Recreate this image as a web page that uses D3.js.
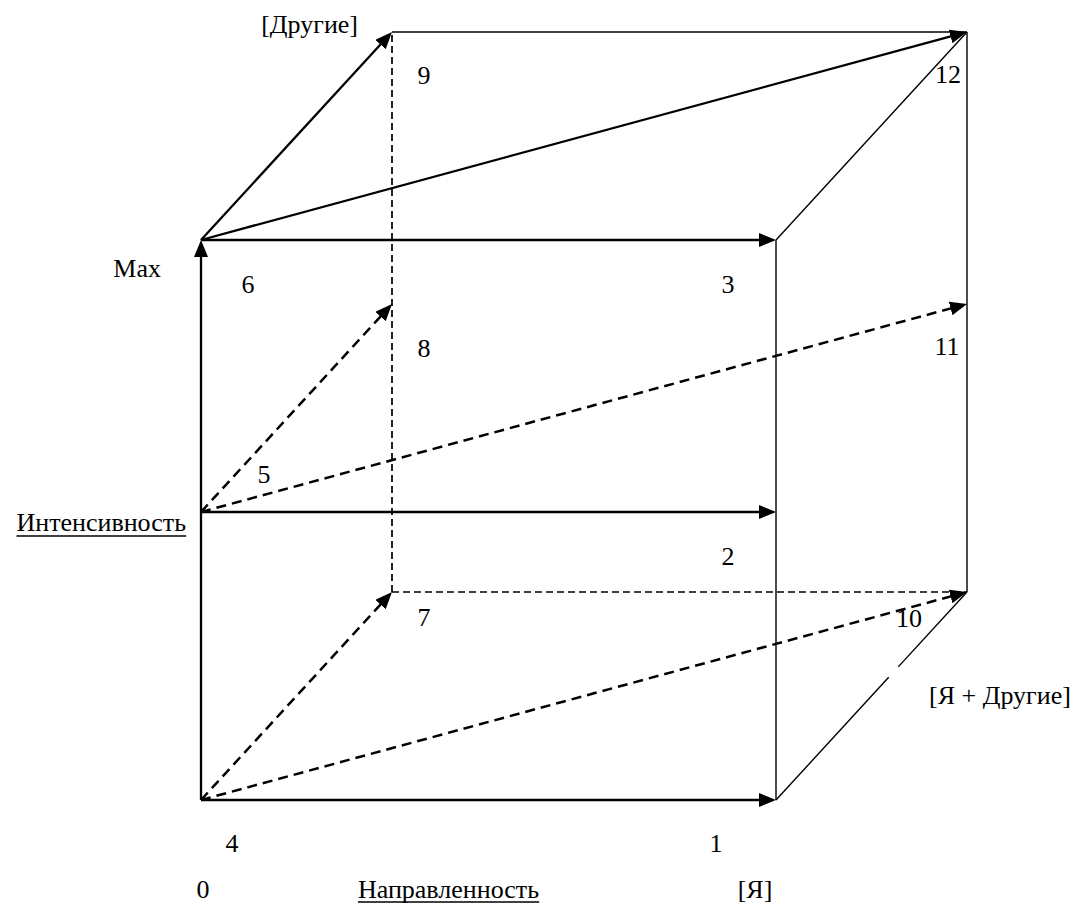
<!DOCTYPE html>
<html>
<head>
<meta charset="utf-8">
<script src="https://cdn.jsdelivr.net/npm/d3@7"></script>
<style>
  html, body { margin: 0; padding: 0; background: #fff; }
  svg { display: block; }
</style>
</head>
<body>
<svg id="chart" width="1074" height="904" font-family="'Liberation Serif', 'Times New Roman', serif"></svg>
<script>
// ---------- DATA ----------
// Cube coordinates: [direction (0 .. [Я]), intensity level (0, Интенсивность, Max), depth (0 .. [Другие])]
const directionTicks = ["0", "[Я]"];
const directionTitle = "Направленность";
const intensityLevels = ["0", "Интенсивность", "Max"];
const depthTicks = ["", "[Другие]"];
const combinedLabel = "[Я + Другие]";

// numbered vectors
const vectorNumbers = ["1", "2", "3", "4", "5", "6", "7", "8", "9", "10", "11", "12"];
const vectorFrom = [[0,0,0],[0,1,0],[0,2,0],[0,0,0],[0,1,0],[0,2,0],[0,0,0],[0,1,0],[0,2,0],[0,0,0],[0,1,0],[0,2,0]];
const vectorTo   = [[1,0,0],[1,1,0],[1,2,0],[0,0,1],[0,1,1],[0,2,1],[0,0,1],[0,1,1],[0,2,1],[1,0,1],[1,1,1],[1,2,1]];
const vectorLabelAt = ["end","end","end","start","start","start","end","end","end","end","end","end"];
const vectorDashed = [false,false,false,true,true,false,true,true,false,true,true,false];

// cube edges without arrowheads
const edgeFrom = [[1,0,0],[1,0,1],[0,2,1],[1,2,0],[1,0,0],[0,0,1],[0,0,1]];
const edgeTo   = [[1,2,0],[1,2,1],[1,2,1],[1,2,1],[1,0,1],[0,2,1],[1,0,1]];
const edgeDashed = [false,false,false,false,false,true,true];

const intensityAxisFrom = [0,0,0];
const intensityAxisTo = [0,2,0];

// ---------- LAYOUT ----------
const svg = d3.select("#chart");
const x = d3.scaleLinear().domain([0, 1]).range([201, 776]);
const y = d3.scaleLinear().domain([0, 1, 2]).range([800, 512, 240]);
const depthX = d3.scaleLinear().domain([0, 1]).range([0, 191]);
const depthY = d3.scaleLinear().domain([0, 1]).range([0, -208]);
const P = p => [x(p[0]) + depthX(p[2]), y(p[1]) + depthY(p[2])];

const FONT = 26;
const THICK = 2.3, THICK_DASH = 2.5, THIN = 1.4, THIN_DASH = 1.7;
const ARROW_LEN = 17, ARROW_HALF = 7;

const labelOffset = {
  "1": [-60, 43], "2": [-48, 44], "3": [-48, 44],
  "4": [31, 43], "5": [63, -38], "6": [47, 44],
  "7": [32, 25], "8": [32, 44], "9": [32, 43],
  "10": [-58, 26], "11": [-20, 42], "12": [-19, 42]
};

const defs = svg.append("defs");
defs.append("marker")
  .attr("id", "arrow")
  .attr("viewBox", `${-ARROW_LEN} ${-ARROW_HALF} ${ARROW_LEN} ${ARROW_HALF * 2}`)
  .attr("refX", 0).attr("refY", 0)
  .attr("markerWidth", ARROW_LEN).attr("markerHeight", ARROW_HALF * 2)
  .attr("markerUnits", "userSpaceOnUse")
  .attr("orient", "auto")
  .append("path")
  .attr("d", `M0,0L${-ARROW_LEN},${-ARROW_HALF}L${-ARROW_LEN},${ARROW_HALF}Z`)
  .attr("fill", "#000");

function drawSegment(g, a, b, opts) {
  const [x1, y1] = P(a), [x2, y2] = P(b);
  const len = Math.hypot(x2 - x1, y2 - y1);
  const ux = (x2 - x1) / len, uy = (y2 - y1) / len;
  const t0 = opts.t0 || 0, t1 = opts.t1 === undefined ? 1 : opts.t1;
  const sx = x1 + (x2 - x1) * t0, sy = y1 + (y2 - y1) * t0;
  const ex = x1 + (x2 - x1) * t1, ey = y1 + (y2 - y1) * t1;
  if (opts.arrow) {
    const lx = x2 - ux * (ARROW_LEN - 3), ly = y2 - uy * (ARROW_LEN - 3);
    g.append("line")
      .attr("x1", sx).attr("y1", sy).attr("x2", lx).attr("y2", ly)
      .attr("stroke", "#000").attr("stroke-width", opts.width)
      .attr("stroke-dasharray", opts.dash || null);
    g.append("path")
      .attr("d", `M${x2 - ux * ARROW_LEN},${y2 - uy * ARROW_LEN}L${x2},${y2}`)
      .attr("stroke", "none").attr("fill", "none")
      .attr("marker-end", "url(#arrow)");
  } else {
    g.append("line")
      .attr("x1", sx).attr("y1", sy).attr("x2", ex).attr("y2", ey)
      .attr("stroke", "#000").attr("stroke-width", opts.width)
      .attr("stroke-dasharray", opts.dash || null);
  }
}

const gEdges = svg.append("g");
edgeFrom.forEach((a, i) => {
  const b = edgeTo[i];
  const opts = { width: edgeDashed[i] ? THIN_DASH : THIN, dash: edgeDashed[i] ? "7,4" : null };
  if (a[0] === 1 && a[1] === 0 && a[2] === 0 && b[2] === 1) {
    drawSegment(gEdges, a, b, Object.assign({}, opts, { t0: 0, t1: 0.59 }));
    drawSegment(gEdges, a, b, Object.assign({}, opts, { t0: 0.64, t1: 1 }));
  } else {
    drawSegment(gEdges, a, b, opts);
  }
});

const gVec = svg.append("g");
const drawnKeys = new Set();
vectorFrom.forEach((a, i) => {
  const b = vectorTo[i];
  const key = a.join() + ">" + b.join();
  if (drawnKeys.has(key)) return;
  drawnKeys.add(key);
  drawSegment(gVec, a, b, vectorDashed[i]
    ? { width: THICK_DASH, arrow: true, dash: "10,6" }
    : { width: THICK, arrow: true });
});
drawSegment(gVec, intensityAxisFrom, intensityAxisTo, { width: THICK, arrow: true });

// vector number labels
const gNum = svg.append("g").attr("font-size", FONT).attr("text-anchor", "middle");
vectorNumbers.forEach((n, i) => {
  const anchor = vectorLabelAt[i] === "start" ? vectorFrom[i] : vectorTo[i];
  const [px, py] = P(anchor);
  const off = labelOffset[n];
  gNum.append("text")
    .attr("x", px + off[0]).attr("y", py + off[1])
    .attr("dy", "0.35em")
    .text(n);
});

// axis labels
const gAx = svg.append("g").attr("font-size", FONT);
function underline(t, gap) {
  const bb = t.node().getBBox();
  const ty = +t.attr("y");
  gAx.append("line")
    .attr("x1", bb.x).attr("x2", bb.x + bb.width)
    .attr("y1", ty + gap).attr("y2", ty + gap)
    .attr("stroke", "#000").attr("stroke-width", 1.3);
}
const bottomY = y(0) + 98;
gAx.append("text").attr("x", x(0) + 2).attr("y", bottomY).attr("text-anchor", "middle").text(directionTicks[0]);
gAx.append("text").attr("x", x(1) - 21).attr("y", bottomY).attr("text-anchor", "middle").text(directionTicks[1]);
const dirT = gAx.append("text").attr("x", (x(0) + x(1)) / 2 - 40).attr("y", bottomY).attr("text-anchor", "middle").text(directionTitle);
underline(dirT, 4);
const intT = gAx.append("text").attr("x", x(0) - 15).attr("y", y(1) + 19).attr("text-anchor", "end").text(intensityLevels[1]);
underline(intT, 5);
gAx.append("text").attr("x", x(0) - 40).attr("y", y(2) + 37).attr("text-anchor", "end").text(intensityLevels[2]);
const backTopLeft = P([0, 2, 1]);
gAx.append("text").attr("x", backTopLeft[0] - 34).attr("y", backTopLeft[1] + 1).attr("text-anchor", "end").text(depthTicks[1]);
const backBottomRight = P([1, 0, 1]);
gAx.append("text").attr("x", backBottomRight[0] - 38).attr("y", backBottomRight[1] + 112).attr("text-anchor", "start").text(combinedLabel);
</script>
</body>
</html>
